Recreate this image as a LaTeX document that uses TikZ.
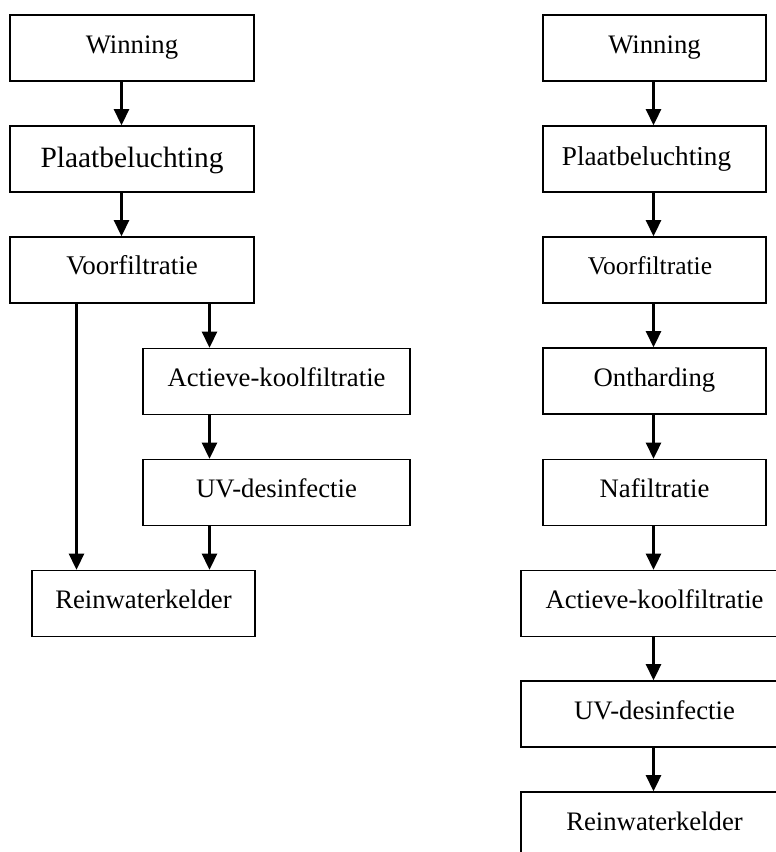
\documentclass[tikz,border=0pt]{standalone}
\usepackage{fontspec}
\setmainfont{Liberation Serif}
\usetikzlibrary{arrows.meta}
\begin{document}
\begin{tikzpicture}[x=1pt,y=-1pt,
  stepbox/.style={draw=black, line width=1.6pt, inner sep=0pt,
    minimum height=66pt, text height=18pt, text depth=8pt,
    font=\fontsize{26.7}{30}\selectfont},
  narrow/.style={stepbox, minimum width=223pt},
  wide/.style={stepbox, minimum width=244pt},
  broad/.style={stepbox, minimum width=267pt},
  flow/.style={line width=2.6pt, -{Triangle[width=15pt,length=16pt]}}]
\useasboundingbox (0,0) rectangle (776,852);
\clip (0,0) rectangle (776,852);

% left process train
\node[wide] (win1) at (132,48) {Winning};
\node[wide, font=\fontsize{29.4}{32}\selectfont, text height=22pt, text depth=6pt] (plaat1) at (132,159) {Plaatbeluchting};
\node[wide, font=\fontsize{27}{30}\selectfont, text height=17pt, text depth=9pt] (voor1) at (132,270) {Voorfiltratie};
\node[broad] (akf1) at (276.5,381.5) {Actieve-koolfiltratie};
\node[broad] (uv1) at (276.5,492.5) {UV-desinfectie};
\node[narrow] (rein1) at (143.5,603.5) {Reinwaterkelder};

\draw[flow] ([xshift=-10.5pt]win1.south) -- ([xshift=-10.5pt]plaat1.north);
\draw[flow] ([xshift=-10.5pt]plaat1.south) -- ([xshift=-10.5pt]voor1.north);
\draw[flow] ([xshift=77.5pt]voor1.south) -- ([xshift=77.5pt]voor1.south |- akf1.north);
\draw[flow] ([xshift=-67pt]akf1.south) -- ([xshift=-67pt]uv1.north);
\draw[flow] ([xshift=-55.5pt]voor1.south) -- ([xshift=-55.5pt]voor1.south |- rein1.north);
\draw[flow] ([xshift=-67pt]uv1.south) -- ([xshift=-67pt]uv1.south |- rein1.north);

% right process train
\node[narrow] (win2) at (654.5,48) {Winning};
\node[narrow, font=\fontsize{27.2}{30}\selectfont, text height=19pt, text depth=7pt] (plaat2) at (654.5,159) {Plaatbeluchting\hspace*{16pt}};
\node[narrow, font=\fontsize{25.5}{29}\selectfont, text height=17pt, text depth=9pt] (voor2) at (654.5,270) {Voorfiltratie\hspace*{9pt}};
\node[narrow] (ont2) at (654.5,381) {Ontharding};
\node[narrow] (naf2) at (654.5,492.5) {Nafiltratie};
\node[broad] (akf2) at (654.5,603.5) {Actieve-koolfiltratie};
\node[broad] (uv2) at (654.5,714) {UV-desinfectie};
\node[broad] (rein2) at (654.5,825) {Reinwaterkelder};

\draw[flow] ([xshift=-1pt]win2.south) -- ([xshift=-1pt]plaat2.north);
\draw[flow] ([xshift=-1pt]plaat2.south) -- ([xshift=-1pt]voor2.north);
\draw[flow] ([xshift=-1pt]voor2.south) -- ([xshift=-1pt]ont2.north);
\draw[flow] ([xshift=-1pt]ont2.south) -- ([xshift=-1pt]naf2.north);
\draw[flow] ([xshift=-1pt]naf2.south) -- ([xshift=-1pt]akf2.north);
\draw[flow] ([xshift=-1pt]akf2.south) -- ([xshift=-1pt]uv2.north);
\draw[flow] ([xshift=-1pt]uv2.south) -- ([xshift=-1pt]rein2.north);
\end{tikzpicture}
\end{document}
